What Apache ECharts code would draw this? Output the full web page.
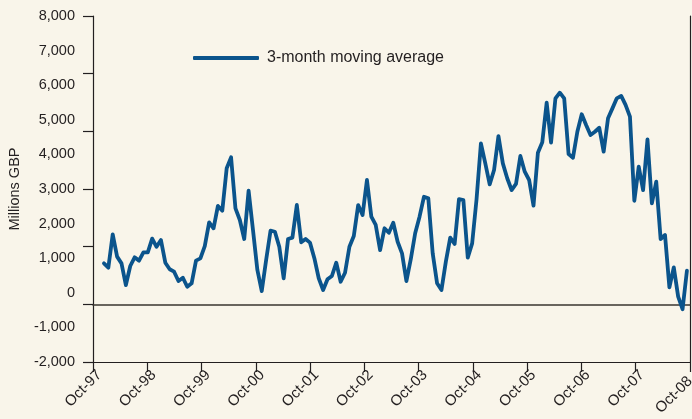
<!DOCTYPE html>
<html>
<head>
<meta charset="utf-8">
<script src="https://cdn.jsdelivr.net/npm/echarts@6/dist/echarts.min.js"></script>
<style>
  html, body { margin: 0; padding: 0; background: #f9f5ea; }
  #chart { width: 692px; height: 419px; }
</style>
</head>
<body>
<div id="chart"></div>
<script>
// tick labels along the bottom
const tickLabels = ['Oct-97', 'Oct-98', 'Oct-99', 'Oct-00', 'Oct-01', 'Oct-02',
  'Oct-03', 'Oct-04', 'Oct-05', 'Oct-06', 'Oct-07', 'Oct-08'];

// 3-month moving average, millions GBP
const movingAverage = [
  850, 725, 1690, 1045, 850, 225, 775, 1025, 930, 1170,
  1170, 1565, 1330, 1525, 870, 680, 610, 340, 435, 175,
  275, 930, 995, 1350, 2035, 1865, 2510, 2375, 3600, 3915,
  2440, 2105, 1555, 2950, 1815, 660, 50, 950, 1795, 1765,
  1330, 420, 1555, 1595, 2540, 1460, 1555, 1450, 1000, 420,
  80, 390, 485, 870, 320, 580, 1330, 1640, 2535, 2250,
  3260, 2200, 1960, 1235, 1865, 1735, 2025, 1475, 1140, 340,
  970, 1720, 2200, 2775, 2730, 1140, 275, 80, 900, 1595,
  1410, 2710, 2680, 1015, 1430, 2700, 4320, 3740, 3135, 3550,
  4530, 3740, 3310, 2970, 3145, 3955, 3500, 3260, 2520, 4050,
  4350, 5495, 4340, 5620, 5785, 5620, 4010, 3905, 4655, 5160,
  4850, 4560, 4655, 4770, 4080, 5045, 5330, 5620, 5690, 5430,
  5090, 2660, 3645, 2970, 4435, 2585, 3210, 1555, 1670, 160,
  735, -110, -475, 640
];

const seriesData = movingAverage.map((v, i) => [i, v]);

const font = '"Liberation Sans", Arial, sans-serif';
const ink = '#231f20';
const lastTick = tickLabels.length - 1;

const chart = echarts.init(document.getElementById('chart'));
chart.setOption({
  backgroundColor: '#f9f5ea',
  animation: false,
  grid: { left: 93, right: 2, top: 16, bottom: 57, containLabel: false, outerBoundsMode: 'none' },
  legend: {
    left: 188,
    top: 45,
    icon: 'roundRect',
    itemWidth: 66,
    itemHeight: 4,
    textStyle: { color: ink, fontFamily: font, fontSize: 16, padding: [0, 0, 0, 3] },
    data: ['3-month moving average']
  },
  xAxis: [
    {
      type: 'category',
      data: tickLabels,
      boundaryGap: false,
      position: 'bottom',
      axisLine: { onZero: false, lineStyle: { color: ink, width: 1.2 } },
      axisTick: { show: true, length: 10, interval: 0, lineStyle: { color: ink, width: 1.2 } },
      axisLabel: {
        interval: 0, rotate: 45, margin: 17,
        color: ink, fontFamily: font, fontSize: 15,
        // labels sit a little to the right of their ticks, except the last one
        formatter: (v, i) => (i === lastTick ? `{end|${v}}` : `{mid|${v}}`),
        rich: {
          mid: { color: ink, fontFamily: font, fontSize: 15, padding: [0, -9, 0, 0] },
          end: { color: ink, fontFamily: font, fontSize: 15, padding: [0, 0, 0, 0] }
        }
      },
      splitLine: { show: false }
    },
    {
      // hidden axis the series is drawn on; its line is the zero rule
      type: 'value',
      min: -2.5,
      max: 133.7,
      position: 'bottom',
      axisLine: { onZero: true, onZeroAxisIndex: 1, lineStyle: { color: '#3a3630', width: 1.5 } },
      axisTick: { show: false },
      axisLabel: { show: false },
      splitLine: { show: false }
    }
  ],
  yAxis: [
    {
      type: 'value',
      min: -2000,
      max: 8000,
      interval: 1000,
      name: 'Millions GBP',
      nameLocation: 'middle',
      nameGap: 68,
      nameTextStyle: { color: ink, fontFamily: font, fontSize: 14.5 },
      axisLine: { show: true, onZero: false, lineStyle: { color: ink, width: 1.2 } },
      axisTick: { show: false },
      axisLabel: {
        margin: 18, color: ink, fontFamily: font, fontSize: 14.5,
        formatter: v => v.toLocaleString('en-US')
      },
      splitLine: { show: false }
    },
    {
      // tick marks only: the original places them at sixths of the height
      type: 'value',
      min: -1,
      max: 5,
      interval: 1,
      position: 'left',
      axisLine: { show: false, onZero: false },
      axisTick: { show: true, length: 10, lineStyle: { color: ink, width: 1.2 } },
      axisLabel: { show: false },
      splitLine: { show: false }
    },
    {
      type: 'value',
      min: -2000,
      max: 8000,
      position: 'right',
      axisLine: { show: true, onZero: false, lineStyle: { color: ink, width: 1.2 } },
      axisTick: { show: false },
      axisLabel: { show: false },
      splitLine: { show: false }
    }
  ],
  series: [
    {
      name: '3-month moving average',
      type: 'line',
      xAxisIndex: 1,
      yAxisIndex: 0,
      data: seriesData,
      symbol: 'none',
      color: '#0b548c',
      lineStyle: { width: 3.8, color: '#0b548c', join: 'round', cap: 'round' }
    }
  ]
});
</script>
</body>
</html>
